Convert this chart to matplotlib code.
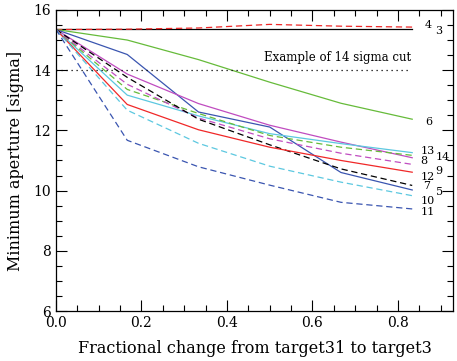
import matplotlib
matplotlib.use("Agg")
import matplotlib.pyplot as plt
import numpy as np
from matplotlib.ticker import MultipleLocator

plt.rcParams["font.family"] = ["DejaVu Serif"]

frac = [0.0, 1 / 6, 2 / 6, 3 / 6, 4 / 6, 5 / 6]

# minimum aperture [sigma] per case
ap_3 = [15.35, 15.35, 15.35, 15.35, 15.35, 15.35]
ap_4 = [15.35, 15.36, 15.40, 15.52, 15.46, 15.43]
ap_6 = [15.35, 15.00, 14.35, 13.60, 12.90, 12.37]
ap_5 = [15.35, 14.52, 12.61, 12.11, 10.60, 10.02]
ap_14 = [15.35, 13.87, 12.89, 12.17, 11.61, 11.09]
ap_13 = [15.35, 13.17, 12.48, 11.89, 11.56, 11.26]
ap_8 = [15.35, 13.36, 12.56, 11.83, 11.44, 11.17]
ap_9 = [15.35, 13.53, 12.41, 11.72, 11.24, 10.87]
ap_7 = [15.35, 13.76, 12.37, 11.52, 10.72, 10.17]
ap_12 = [15.35, 12.86, 12.02, 11.44, 11.00, 10.61]
ap_10 = [15.35, 12.67, 11.57, 10.81, 10.28, 9.83]
ap_11 = [15.35, 11.67, 10.79, 10.18, 9.61, 9.39]

cut_level = 14.0

fig = plt.figure(figsize=(4.57, 3.61), dpi=100)
ax = fig.add_axes([0.1225, 0.1385, 0.869, 0.834])

red = "#f02828"
green = "#66bb3a"
blue = "#3a55b0"
cyan = "#5cc8e0"
magenta = "#c04cc0"

lw = 0.9
ax.plot(frac, ap_3, color="black", lw=lw)
ax.plot(frac, ap_4, color=red, lw=lw, ls=(0, (5, 3)))
ax.plot(frac, ap_6, color=green, lw=lw)
ax.plot(frac, ap_5, color=blue, lw=lw)
ax.plot(frac, ap_14, color=magenta, lw=lw)
ax.plot(frac, ap_13, color=cyan, lw=lw)
ax.plot(frac, ap_8, color=green, lw=lw, ls=(0, (5, 3)))
ax.plot(frac, ap_9, color=magenta, lw=lw, ls=(0, (5, 3)))
ax.plot(frac, ap_7, color="black", lw=lw, ls=(0, (5, 3)))
ax.plot(frac, ap_12, color=red, lw=lw)
ax.plot(frac, ap_10, color=cyan, lw=lw, ls=(0, (5, 3)))
ax.plot(frac, ap_11, color=blue, lw=lw, ls=(0, (5, 3)))

# example cut
ax.plot([0.0, 0.83], [cut_level, cut_level], color="black", lw=0.9, ls=(0, (1, 3)))
ax.text(0.83, cut_level + 0.2, "Example of 14 sigma cut", ha="right", va="bottom", fontsize=8.5)

# curve labels at the right end (two narrow columns)
lab_fs = 8
col1, col2 = 0.852, 0.888
for txt, x, y in [("4", 0.863, 15.5), ("3", col2, 15.3),
                  ("6", 0.863, 12.27), ("13", col1, 11.3), ("8", col1, 10.98),
                  ("14", col2, 11.12), ("12", col1, 10.45), ("9", col2, 10.66),
                  ("7", col1 + 0.008, 10.15), ("5", col2, 9.95), ("10", col1, 9.64),
                  ("11", col1, 9.3)]:
    ax.text(x, y, txt, ha="left", va="center", fontsize=lab_fs)

ax.set_xlim(0, 0.929)
ax.set_ylim(6, 16)
ax.xaxis.set_major_locator(MultipleLocator(0.2))
ax.xaxis.set_minor_locator(MultipleLocator(0.05))
ax.yaxis.set_major_locator(MultipleLocator(2))
ax.yaxis.set_minor_locator(MultipleLocator(0.5))
ax.tick_params(which="both", direction="in", top=True, right=True, labelsize=10, width=0.8)
ax.tick_params(which="major", length=8)
ax.tick_params(which="minor", length=4)
ax.xaxis.set_major_formatter(matplotlib.ticker.FormatStrFormatter("%.1f"))
for s in ax.spines.values():
    s.set_linewidth(0.9)

ax.set_xlabel("Fractional change from target31 to target3", fontsize=11.5, labelpad=7)
ax.set_ylabel("Minimum aperture [sigma]", fontsize=11.5, labelpad=7)

fig.savefig("out.png", dpi=100)
